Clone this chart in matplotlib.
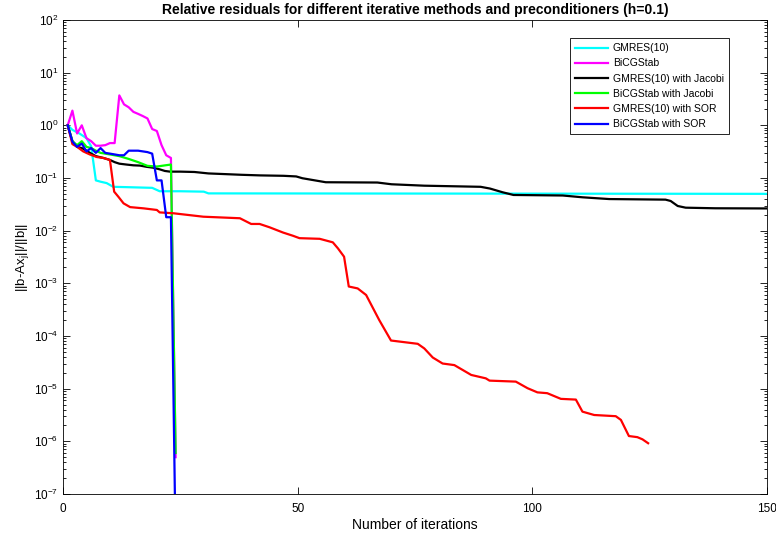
import numpy as np
import matplotlib
matplotlib.use("Agg")
import matplotlib.pyplot as plt
from matplotlib.ticker import LogLocator, NullFormatter

# --- Data (iteration, relative residual) ---
gmres_x = [1, 2, 3.5, 5, 6, 7, 8, 9.3, 10.7, 13.5, 19, 20.6, 25, 30, 31, 150]
gmres_y = [1.0, 0.82, 0.7, 0.57, 0.4, 0.09, 0.085, 0.08, 0.068, 0.067, 0.065,
           0.056, 0.056, 0.055, 0.051, 0.05]

bicg_x = list(range(1, 25))
bicg_y = [1.0, 1.9, 0.7, 1.0, 0.57, 0.5, 0.41, 0.41, 0.42, 0.46, 0.46, 3.7,
          2.5, 2.2, 1.8, 1.65, 1.5, 1.35, 0.85, 0.78, 0.42, 0.27, 0.24, 5e-7]

gmres_jac_x = [1, 2, 3, 4, 5, 6, 7, 8.6, 10, 11, 12, 13.5, 15, 16.4, 17.8,
               19.2, 20.6, 21.7, 22.8, 25, 28, 31, 35, 38, 42, 47, 49.7, 51,
               56, 67, 70, 77, 89, 91, 93.7, 96, 106.5, 110.7, 116.4, 128.4,
               129.5, 131, 132.7, 139, 150]
gmres_jac_y = [1.0, 0.5, 0.39, 0.37, 0.33, 0.29, 0.26, 0.24, 0.22, 0.2, 0.187,
               0.18, 0.174, 0.172, 0.163, 0.157, 0.146, 0.136, 0.132, 0.132,
               0.13, 0.122, 0.118, 0.115, 0.112, 0.11, 0.107, 0.099, 0.083,
               0.082, 0.076, 0.0714, 0.068, 0.063, 0.0535, 0.0476, 0.0465,
               0.043, 0.0398, 0.0388, 0.0366, 0.0294, 0.0273, 0.0266, 0.0264]

bicg_jac_x = [1, 2, 3, 4, 5, 6, 7, 8, 10, 12, 14, 16, 18, 20, 22, 23, 24]
bicg_jac_y = [1.0, 0.5, 0.42, 0.5, 0.39, 0.37, 0.33, 0.30, 0.28, 0.26, 0.23,
              0.2, 0.17, 0.165, 0.175, 0.18, 6e-7]

gmres_sor_x = [1, 2, 3, 4.3, 5.7, 7.2, 8.6, 10, 10.9, 11.8, 12.9, 14.3, 17.2,
               20, 20.6, 23.5, 29.9, 37.7, 40.1, 41.9, 44, 46.9, 49, 50.4,
               54.7, 57.5, 58.6, 59.9, 60.9, 62.8, 64.6, 67.4, 69.9, 75.6, 77,
               78.8, 80.9, 83.4, 87, 90.1, 90.9, 96.5, 99, 101.1, 103.2, 106.1,
               109.3, 110.7, 113.2, 117.8, 118.9, 120.6, 122.4, 123.5, 124.7]
gmres_sor_y = [1.0, 0.44, 0.39, 0.32, 0.28, 0.25, 0.24, 0.22, 0.055, 0.044,
               0.033, 0.028, 0.0265, 0.0247, 0.0222, 0.0214, 0.0184, 0.0172,
               0.0134, 0.0134, 0.0116, 0.0092, 0.008, 0.0072, 0.007, 0.006,
               0.0046, 0.0032, 8.7e-4, 8.0e-4, 6.0e-4, 2.0e-4, 8.2e-5, 7.1e-5,
               5.8e-5, 3.9e-5, 3.0e-5, 2.8e-5, 1.82e-5, 1.57e-5, 1.42e-5,
               1.36e-5, 1.02e-5, 8.5e-6, 8.2e-6, 6.4e-6, 6.2e-6, 3.66e-6,
               3.16e-6, 3.0e-6, 2.55e-6, 1.26e-6, 1.2e-6, 1.09e-6, 9.2e-7]

bicg_sor_x = list(range(1, 25))
bicg_sor_y = [1.0, 0.49, 0.39, 0.45, 0.32, 0.37, 0.30, 0.37, 0.30, 0.29, 0.28,
              0.27, 0.27, 0.33, 0.33, 0.33, 0.32, 0.31, 0.29, 0.09, 0.09,
              0.018, 0.018, 1e-8]

labels = ["GMRES(10)", "BiCGStab", "GMRES(10) with Jacobi",
          "BiCGStab with Jacobi", "GMRES(10) with SOR", "BiCGStab with SOR"]
colors = ["#00ffff", "#ff00ff", "#000000", "#00ff00", "#ff0000", "#0000ff"]

# --- Style ---
plt.rcParams['font.family'] = ['Liberation Sans', 'DejaVu Sans']
plt.rcParams['mathtext.default'] = 'regular'

fig = plt.figure(figsize=(7.76, 5.33), dpi=100)
ax = fig.add_axes([0.0812, 0.0732, 0.9070, 0.8893])

series = [(gmres_x, gmres_y), (bicg_x, bicg_y), (gmres_jac_x, gmres_jac_y),
          (bicg_jac_x, bicg_jac_y), (gmres_sor_x, gmres_sor_y),
          (bicg_sor_x, bicg_sor_y)]
for (xs, ys), lab, c in zip(series, labels, colors):
    ax.semilogy(xs, ys, color=c, lw=1.6, label=lab)

ax.set_xlim(0, 150)
ax.set_ylim(1e-7, 1e2)
ax.set_xticks([0, 50, 100, 150])
ax.yaxis.set_major_locator(LogLocator(base=10, numticks=20))
ax.yaxis.set_minor_locator(LogLocator(base=10, subs=np.arange(2, 10), numticks=20))
ax.yaxis.set_minor_formatter(NullFormatter())
ax.tick_params(which='both', direction='in', top=True, right=True,
               labelsize=8.5, width=0.6)
ax.tick_params(which='major', length=5)
ax.tick_params(which='minor', length=2.5)
ax.tick_params(axis='x', pad=6.5)
for s in ax.spines.values():
    s.set_linewidth(0.6)

ax.set_title("Relative residuals for different iterative methods and preconditioners (h=0.1)",
             fontsize=10, fontweight='bold', pad=4)
ax.set_xlabel("Number of iterations", fontsize=10, labelpad=2)
ax.set_ylabel("||b-Ax$_j$||/||b||", fontsize=9.5, labelpad=2)

leg = ax.legend(loc='upper right', bbox_to_anchor=(0.946, 0.962), fontsize=7.5,
                fancybox=False, edgecolor='black', framealpha=1,
                handlelength=3.2, handletextpad=0.4, borderpad=0.5,
                labelspacing=0.5, borderaxespad=0)
leg.get_frame().set_linewidth(0.6)

fig.savefig("out.png", dpi=100)
